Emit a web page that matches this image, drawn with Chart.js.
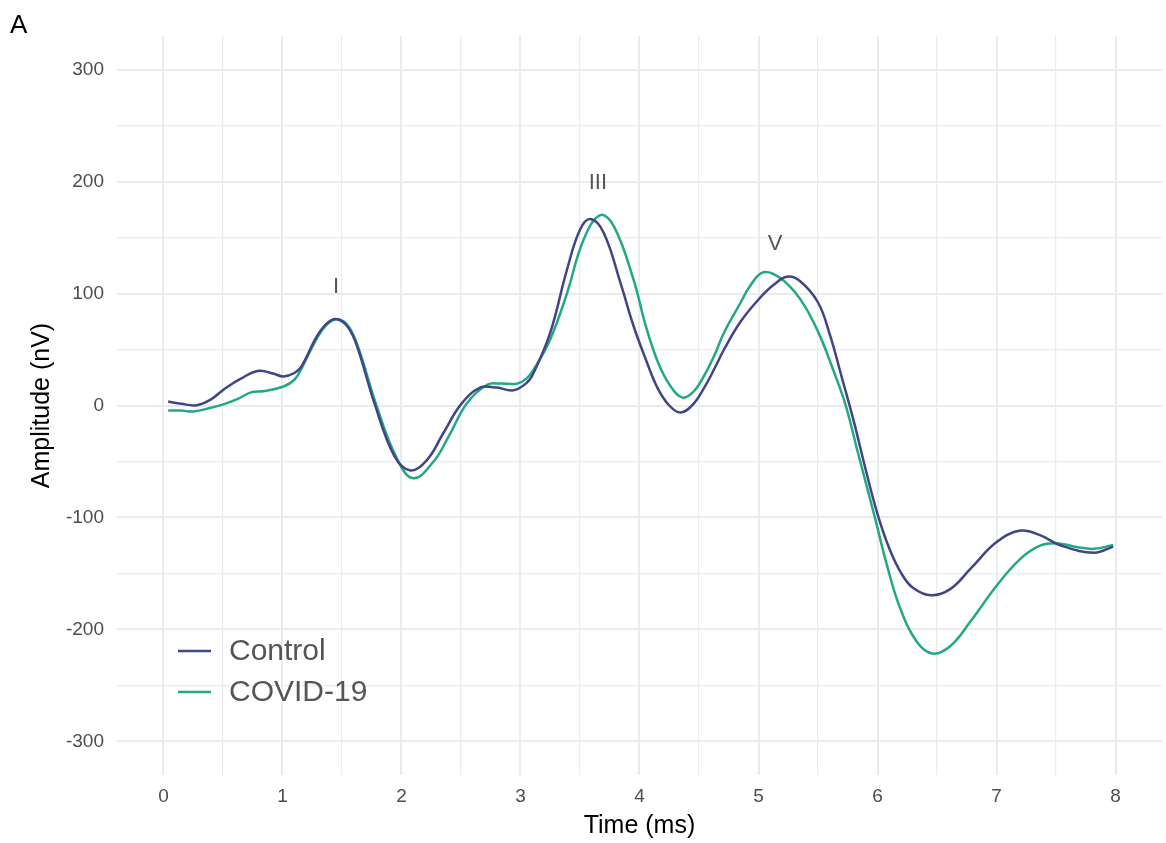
<!DOCTYPE html>
<html>
<head>
<meta charset="utf-8">
<script src="https://cdn.jsdelivr.net/npm/chart.js@4/dist/chart.umd.min.js"></script>
<style>
  html, body { margin: 0; padding: 0; background: #ffffff; }
  #wrap { position: relative; width: 1166px; height: 843px; }
</style>
</head>
<body>
<div id="wrap"><canvas id="c" width="1166" height="843"></canvas></div>
<script>
// ---- data ----
const controlTime = [0.04,0.15,0.28,0.40,0.51,0.65,0.80,0.92,1.01,1.10,1.16,1.29,1.38,1.46,1.55,1.63,1.77,1.94,2.075,2.215,2.35,2.50,2.66,2.80,2.94,3.05,3.11,3.25,3.39,3.50,3.59,3.70,3.84,3.95,4.05,4.15,4.25,4.345,4.45,4.55,4.63,4.71,4.85,5.00,5.13,5.24,5.35,5.50,5.60,5.70,5.80,5.90,6.00,6.10,6.20,6.30,6.45,6.61,6.78,7.00,7.20,7.37,7.54,7.82,7.98];
const controlAmp  = [3.5,1.5,0.3,5.5,14.5,24,31,28.5,26,29,35,62,74,77,70,52,3,-45,-58,-48.5,-25,1,16,16,13.6,20,29,65,121,157,166.5,154,109.5,71,42,16,0,-6.3,1,17,33,50,75,94.7,108,115,111,92,63,25,-14,-57,-97,-128,-150,-163,-169.5,-164,-146,-122,-111.7,-116,-125,-131.5,-126];
const covidTime = [0.04,0.15,0.25,0.40,0.51,0.62,0.73,0.85,1.01,1.10,1.16,1.29,1.38,1.47,1.56,1.64,1.79,1.96,2.10,2.27,2.40,2.55,2.72,2.83,2.97,3.05,3.11,3.25,3.39,3.53,3.67,3.785,3.95,4.05,4.15,4.25,4.36,4.46,4.55,4.63,4.71,4.85,4.93,5.04,5.18,5.35,5.50,5.63,5.73,5.83,5.98,6.08,6.19,6.33,6.46,6.61,6.78,7.00,7.20,7.37,7.51,7.68,7.82,7.98];
const covidAmp  = [-4.5,-4.5,-5.4,-2,1.2,5.6,11.5,13,17,23,33,60,73,77,70,51,0,-47,-65,-50,-27,2,18.5,19.6,19.5,24,32,59,100,148,170,160,112.5,72,40,19,7,13,28,45,65,92,107,119,114,95,66,31,1,-40,-101,-143,-181,-211,-221.5,-215,-193,-161,-137,-125,-123,-126.5,-128,-124.5];

const seriesNames = ['Control', 'COVID-19'];
const seriesColors = ['#414487', '#22a884'];

const xTickLabels = [0,1,2,3,4,5,6,7,8];
const xGridValues = [0,0.5,1,1.5,2,2.5,3,3.5,4,4.5,5,5.5,6,6.5,7,7.5,8];
const yTickLabels = [-300,-200,-100,0,100,200,300];
const yGridValues = [-300,-250,-200,-150,-100,-50,0,50,100,150,200,250,300];

const peakLabels = ['I', 'III', 'V'];
const peakTime   = [1.45, 3.65, 5.14];
const peakAmp    = [106, 199, 144];

const panelTag = 'A';
const xTitle = 'Time (ms)';
const yTitle = 'Amplitude (nV)';

// ---- build datasets ----
function pts(t, v) { return t.map((x, i) => ({ x: x, y: v[i] })); }

const FONT = "'Liberation Sans', Arial, Helvetica, sans-serif";
const GRID = '#ebebeb';
const TICKCOL = '#4d4d4d';

const overlayPlugin = {
  id: 'overlay',
  afterDatasetsDraw(chart) {
    const ctx = chart.ctx;
    const xs = chart.scales.x, ys = chart.scales.y;
    ctx.save();
    // peak labels
    ctx.fillStyle = '#555555';
    ctx.font = '22px ' + FONT;
    ctx.textAlign = 'center';
    ctx.textBaseline = 'middle';
    peakLabels.forEach((lab, i) => {
      ctx.fillText(lab, xs.getPixelForValue(peakTime[i]), ys.getPixelForValue(peakAmp[i]));
    });
    // legend (inside panel, lower left)
    const lx0 = 178, lx1 = 211, tx = 229;
    const rows = [651, 692];
    chart.data.datasets.forEach((ds, i) => {
      ctx.strokeStyle = ds.borderColor;
      ctx.lineWidth = 2.6;
      ctx.beginPath();
      ctx.moveTo(lx0, rows[i]);
      ctx.lineTo(lx1, rows[i]);
      ctx.stroke();
      ctx.fillStyle = '#555555';
      ctx.font = '30px ' + FONT;
      ctx.textAlign = 'left';
      ctx.textBaseline = 'middle';
      ctx.fillText(ds.label, tx, rows[i] + 1);
    });
    // panel tag
    ctx.fillStyle = '#000000';
    ctx.font = '26px ' + FONT;
    ctx.textAlign = 'left';
    ctx.textBaseline = 'alphabetic';
    ctx.fillText(panelTag, 10, 33);
    ctx.restore();
  }
};

new Chart(document.getElementById('c'), {
  type: 'line',
  data: {
    datasets: [
      { label: seriesNames[0], data: pts(controlTime, controlAmp), borderColor: seriesColors[0], backgroundColor: seriesColors[0],
        borderWidth: 2.5, pointRadius: 0, tension: 0.4, fill: false },
      { label: seriesNames[1], data: pts(covidTime, covidAmp), borderColor: seriesColors[1], backgroundColor: seriesColors[1],
        borderWidth: 2.5, pointRadius: 0, tension: 0.4, fill: false }
    ]
  },
  options: {
    responsive: false,
    animation: false,
    devicePixelRatio: 1,
    layout: { padding: { top: 36, right: 4, left: 0, bottom: 0 } },
    plugins: { legend: { display: false }, tooltip: { enabled: false }, title: { display: false } },
    scales: {
      x: {
        type: 'linear',
        min: -0.39, max: 8.39,
        afterBuildTicks: s => { s.ticks = xGridValues.map(v => ({ value: v })); },
        afterFit: s => { s.height = 68; },
        border: { display: false },
        grid: {
          color: GRID, drawTicks: false,
          lineWidth: c => (c.tick && Number.isInteger(c.tick.value)) ? 2 : 1.2
        },
        ticks: {
          padding: 10, color: TICKCOL, font: { family: FONT, size: 19 }, maxRotation: 0, autoSkip: false,
          callback: v => xTickLabels.includes(v) ? String(v) : ''
        },
        title: { display: true, text: xTitle, color: '#000000', font: { family: FONT, size: 25 }, padding: { top: 0, bottom: 2 } }
      },
      y: {
        type: 'linear',
        min: -330, max: 330,
        afterBuildTicks: s => { s.ticks = yGridValues.map(v => ({ value: v })); },
        afterFit: s => { s.width = 117; },
        border: { display: false },
        grid: {
          color: GRID, drawTicks: false,
          lineWidth: c => (c.tick && c.tick.value % 100 === 0) ? 2 : 1.2
        },
        ticks: {
          padding: 13, color: TICKCOL, font: { family: FONT, size: 19 }, autoSkip: false,
          callback: v => yTickLabels.includes(v) ? String(v) : ''
        },
        title: { display: true, text: yTitle, color: '#000000', font: { family: FONT, size: 25 }, padding: { top: 27, bottom: 0 } }
      }
    }
  },
  plugins: [overlayPlugin]
});
</script>
</body>
</html>
